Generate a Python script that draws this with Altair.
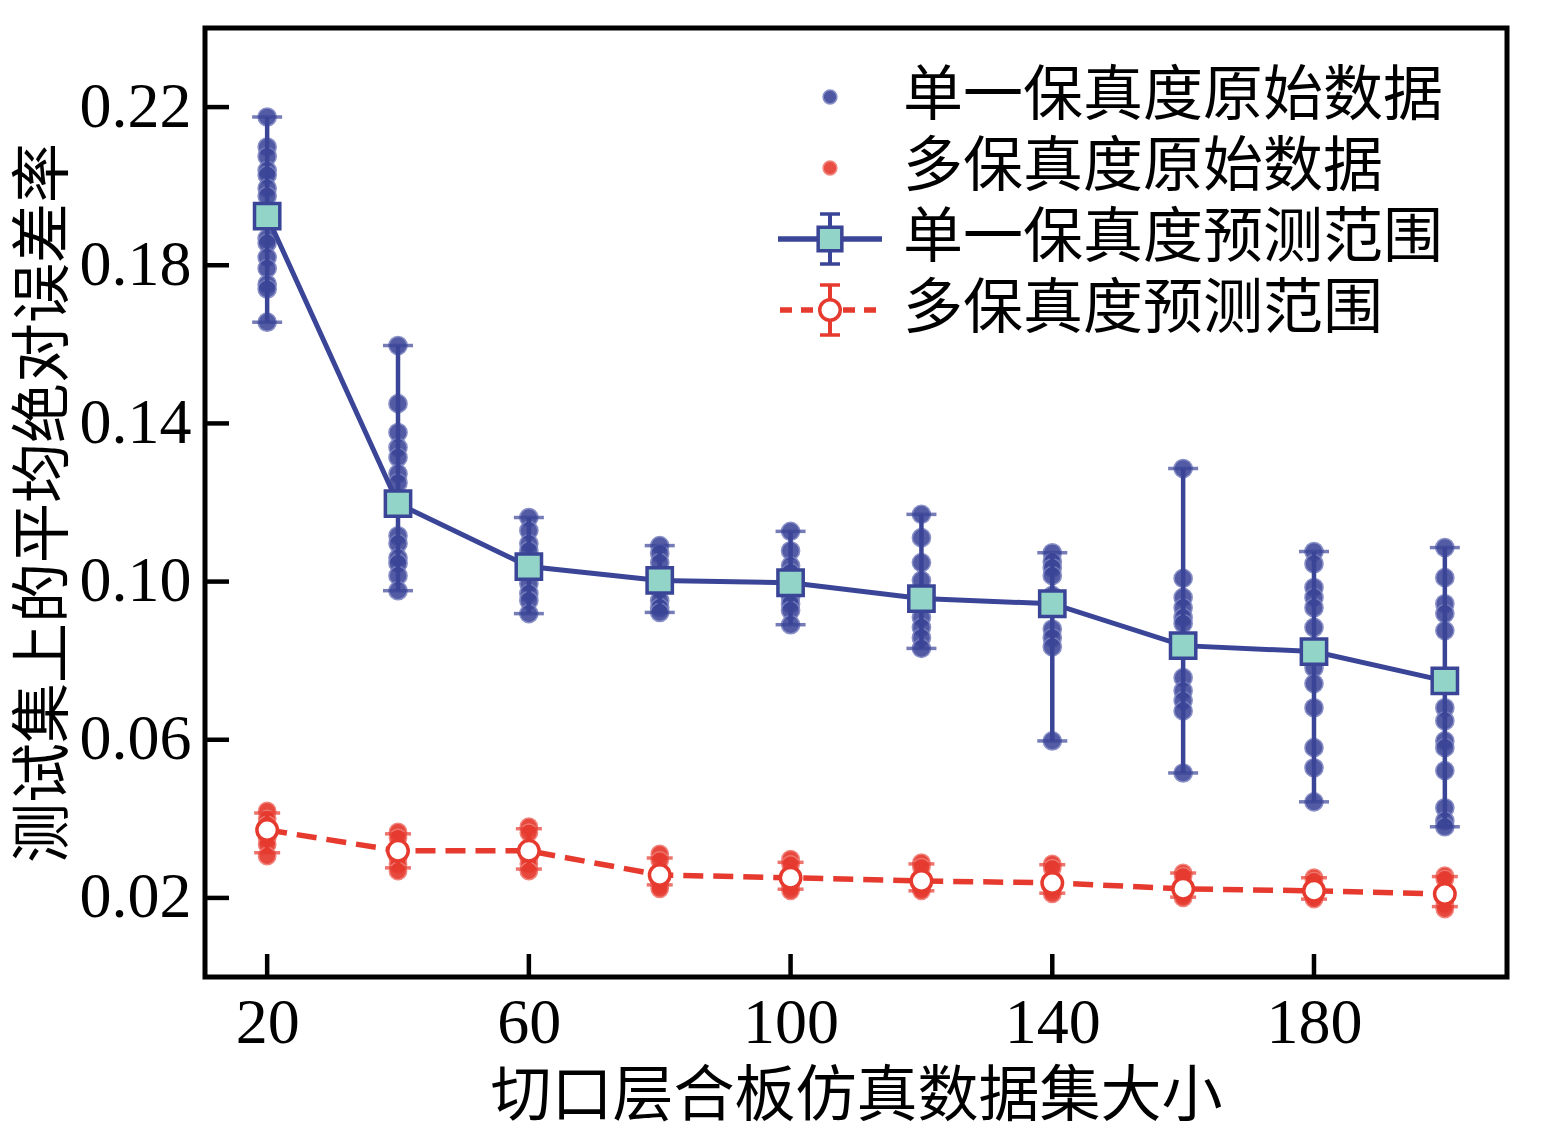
import altair as alt
import pandas as pd

# ---------------- data ----------------
sizes = [20, 40, 60, 80, 100, 120, 140, 160, 180, 200]

single_raw = {
    20: [0.2175, 0.2099, 0.2075, 0.2040, 0.2028, 0.1995, 0.1975, 0.1934, 0.1868, 0.1856, 0.1820, 0.1792, 0.1752, 0.1740, 0.1656],
    40: [0.1597, 0.1450, 0.1377, 0.1339, 0.1314, 0.1273, 0.1250, 0.1116, 0.1096, 0.1060, 0.1046, 0.1015, 0.0977],
    60: [0.1162, 0.1129, 0.1096, 0.1078, 0.1050, 0.0995, 0.0970, 0.0952, 0.0919],
    80: [0.1091, 0.1071, 0.1048, 0.0980, 0.0952, 0.0934, 0.0922],
    100: [0.1127, 0.1078, 0.1040, 0.1023, 0.0960, 0.0944, 0.0927, 0.0891],
    120: [0.1170, 0.1111, 0.1048, 0.1003, 0.0909, 0.0884, 0.0858, 0.0831],
    140: [0.1073, 0.1050, 0.1035, 0.1015, 0.0965, 0.0880, 0.0858, 0.0835, 0.0597],
    160: [0.1286, 0.1008, 0.0960, 0.0934, 0.0909, 0.0894, 0.0757, 0.0724, 0.0699, 0.0673, 0.0516],
    180: [0.1076, 0.1045, 0.0985, 0.0960, 0.0934, 0.0884, 0.0782, 0.0742, 0.0681, 0.0580, 0.0529, 0.0443],
    200: [0.1086, 0.1010, 0.0944, 0.0919, 0.0876, 0.0681, 0.0648, 0.0597, 0.0580, 0.0522, 0.0428, 0.0395, 0.0380],
}
single_mean = [0.1924, 0.1197, 0.1038, 0.1003, 0.0997, 0.0957, 0.0944, 0.0838, 0.0823, 0.0749]
single_low = [0.1656, 0.0977, 0.0919, 0.0922, 0.0891, 0.0831, 0.0597, 0.0516, 0.0443, 0.0380]
single_high = [0.2175, 0.1597, 0.1162, 0.1091, 0.1127, 0.1170, 0.1073, 0.1286, 0.1076, 0.1086]

multi_raw = {
    20: [0.0420, 0.0400, 0.0385, 0.0350, 0.0335, 0.0306],
    40: [0.0367, 0.0352, 0.0300, 0.0285, 0.0268],
    60: [0.0380, 0.0365, 0.0300, 0.0285, 0.0268],
    80: [0.0311, 0.0295, 0.0245, 0.0232, 0.0223],
    100: [0.0298, 0.0285, 0.0240, 0.0228, 0.0218],
    120: [0.0289, 0.0278, 0.0235, 0.0225, 0.0218],
    140: [0.0286, 0.0275, 0.0230, 0.0220, 0.0210],
    160: [0.0263, 0.0255, 0.0215, 0.0208, 0.0200],
    180: [0.0251, 0.0243, 0.0210, 0.0203, 0.0197],
    200: [0.0256, 0.0248, 0.0200, 0.0185, 0.0172],
}
multi_mean = [0.0372, 0.0319, 0.0319, 0.0258, 0.0251, 0.0243, 0.0238, 0.0223, 0.0218, 0.0210]
multi_low = [0.0314, 0.0276, 0.0273, 0.0233, 0.0222, 0.0218, 0.0212, 0.0202, 0.0197, 0.0178]
multi_high = [0.0415, 0.0362, 0.0375, 0.0301, 0.0290, 0.0286, 0.0284, 0.0263, 0.0251, 0.0254]

x_ticks = [20, 60, 100, 140, 180]
y_ticks = [0.02, 0.06, 0.10, 0.14, 0.18, 0.22]

legend_labels = ["单一保真度原始数据", "多保真度原始数据", "单一保真度预测范围", "多保真度预测范围"]
x_title = "切口层合板仿真数据集大小"
y_title = "测试集上的平均绝对误差率"

# ---------------- styling ----------------
NAVY = "#3b4597"
RED = "#e63a2f"
TEAL = "#93d4c9"
W, H = 1302, 949
LATIN = "Liberation Serif"
CJK = "Noto Sans CJK SC"

single_raw_df = pd.DataFrame([(k, v) for k in sizes for v in single_raw[k]], columns=["n", "v"])
multi_raw_df = pd.DataFrame([(k, v) for k in sizes for v in multi_raw[k]], columns=["n", "v"])
single_df = pd.DataFrame({"n": sizes, "mean": single_mean, "lo": single_low, "hi": single_high})
multi_df = pd.DataFrame({"n": sizes, "mean": multi_mean, "lo": multi_low, "hi": multi_high})
ytick_df = pd.DataFrame({"t": y_ticks})
xtick_df = pd.DataFrame({"t": x_ticks})

xscale = alt.Scale(domain=[10.5, 209.5], nice=False, zero=False)
yscale = alt.Scale(domain=[0, 0.24], nice=False, zero=False)
xaxis = alt.Axis(values=x_ticks, format="d", title=x_title, tickSize=0, domain=False, grid=False,
                 labelPadding=14, titlePadding=12, titleFontSize=61)
yaxis = alt.Axis(values=y_ticks, format=".2f", title=y_title, tickSize=0, domain=False, grid=False,
                 labelPadding=14, titlePadding=4, titleFontSize=60)


def X(field):
    return alt.X(field, type="quantitative", scale=xscale, axis=xaxis)


def Y(field):
    return alt.Y(field, type="quantitative", scale=yscale, axis=yaxis)


layers = []

# raw points
layers.append(alt.Chart(single_raw_df).mark_circle(size=330, color=NAVY, opacity=0.88,
                                                     stroke="#7a82c0", strokeWidth=1.5)
              .encode(x=X("n"), y=Y("v")))
layers.append(alt.Chart(multi_raw_df).mark_circle(size=300, color=RED, opacity=0.92,
                                                    stroke="#f07a72", strokeWidth=1.5)
              .encode(x=X("n"), y=Y("v")))

# error bars
for df, col, cap in [(single_df, NAVY, 30), (multi_df, RED, 26)]:
    layers.append(alt.Chart(df).mark_rule(color=col, strokeWidth=4.5)
                  .encode(x=X("n"), y=Y("lo"), y2="hi"))
    layers.append(alt.Chart(df).mark_tick(orient="horizontal", color=col, size=cap, thickness=3.5)
                  .encode(x=X("n"), y=Y("lo")))
    layers.append(alt.Chart(df).mark_tick(orient="horizontal", color=col, size=cap, thickness=3.5)
                  .encode(x=X("n"), y=Y("hi")))

# lines
layers.append(alt.Chart(single_df).mark_line(color=NAVY, strokeWidth=5)
              .encode(x=X("n"), y=Y("mean")))
layers.append(alt.Chart(multi_df).mark_line(color=RED, strokeWidth=5.5, strokeDash=[20, 10])
              .encode(x=X("n"), y=Y("mean")))

# markers
layers.append(alt.Chart(single_df).mark_square(size=640, color=TEAL, opacity=1, stroke=NAVY,
                                                 strokeWidth=3.5, filled=True)
              .encode(x=X("n"), y=Y("mean")))
layers.append(alt.Chart(multi_df).mark_point(shape="circle", size=420, fill="white", opacity=1,
                                               stroke=RED, strokeWidth=3.5, filled=False)
              .encode(x=X("n"), y=Y("mean")))

# inward axis ticks
layers.append(alt.Chart(ytick_df).mark_rule(color="black", strokeWidth=4.5)
              .encode(y=Y("t"), x=alt.value(0), x2=alt.value(24)))
layers.append(alt.Chart(xtick_df).mark_rule(color="black", strokeWidth=4.5)
              .encode(x=X("t"), y=alt.value(H), y2=alt.value(H - 23)))

# ---------------- legend ----------------
rows = [69, 140, 211, 282]
sx = 625
tx = 698
leg = pd.DataFrame({"label": legend_labels, "row": rows})

layers.append(alt.Chart(leg.iloc[[0]]).mark_circle(size=190, color=NAVY, opacity=0.9, stroke="#7a82c0", strokeWidth=1.5)
              .encode(x=alt.value(sx), y=alt.value(rows[0])))
layers.append(alt.Chart(leg.iloc[[1]]).mark_circle(size=190, color=RED, opacity=0.9, stroke="#f07a72", strokeWidth=1.5)
              .encode(x=alt.value(sx), y=alt.value(rows[1])))
# single prediction range glyph
r = rows[2]
layers.append(alt.Chart(leg.iloc[[2]]).mark_rule(color=NAVY, strokeWidth=5.5)
              .encode(x=alt.value(sx - 52), x2=alt.value(sx + 52), y=alt.value(r)))
layers.append(alt.Chart(leg.iloc[[2]]).mark_rule(color=NAVY, strokeWidth=4)
              .encode(x=alt.value(sx), y=alt.value(r - 25), y2=alt.value(r + 25)))
layers.append(alt.Chart(leg.iloc[[2]]).mark_rule(color=NAVY, strokeWidth=3.5)
              .encode(x=alt.value(sx - 10), x2=alt.value(sx + 10), y=alt.value(r - 25)))
layers.append(alt.Chart(leg.iloc[[2]]).mark_rule(color=NAVY, strokeWidth=3.5)
              .encode(x=alt.value(sx - 10), x2=alt.value(sx + 10), y=alt.value(r + 25)))
layers.append(alt.Chart(leg.iloc[[2]]).mark_square(size=560, color=TEAL, opacity=1, stroke=NAVY, strokeWidth=3.5)
              .encode(x=alt.value(sx), y=alt.value(r)))
# multi prediction range glyph
r = rows[3]
layers.append(alt.Chart(leg.iloc[[3]]).mark_rule(color=RED, strokeWidth=5.5, strokeDash=[12, 9])
              .encode(x=alt.value(sx - 50), x2=alt.value(sx + 50), y=alt.value(r)))
layers.append(alt.Chart(leg.iloc[[3]]).mark_rule(color=RED, strokeWidth=4)
              .encode(x=alt.value(sx), y=alt.value(r - 25), y2=alt.value(r + 25)))
layers.append(alt.Chart(leg.iloc[[3]]).mark_rule(color=RED, strokeWidth=3.5)
              .encode(x=alt.value(sx - 10), x2=alt.value(sx + 10), y=alt.value(r - 25)))
layers.append(alt.Chart(leg.iloc[[3]]).mark_rule(color=RED, strokeWidth=3.5)
              .encode(x=alt.value(sx - 10), x2=alt.value(sx + 10), y=alt.value(r + 25)))
layers.append(alt.Chart(leg.iloc[[3]]).mark_point(shape="circle", size=420, fill="white", opacity=1,
                                                    stroke=RED, strokeWidth=3.5)
              .encode(x=alt.value(sx), y=alt.value(r)))

layers.append(alt.Chart(leg).mark_text(align="left", baseline="middle", font=CJK, fontSize=60, color="black")
              .encode(text="label:N", x=alt.value(tx), y=alt.Y("row:Q", scale=None, axis=None)))

chart = (
    alt.layer(*layers)
    .properties(width=W, height=H, autosize=alt.AutoSizeParams(type="none"),
                padding={"left": 197, "top": 20, "right": 26, "bottom": 155})
    .configure_view(stroke="black", strokeWidth=5)
    .configure_axis(labelFont=LATIN, labelFontSize=64, labelColor="black",
                    titleFont=CJK, titleFontWeight="normal", titleColor="black")
)

chart.save("out.html", embed_options={"renderer": "svg", "actions": False})
